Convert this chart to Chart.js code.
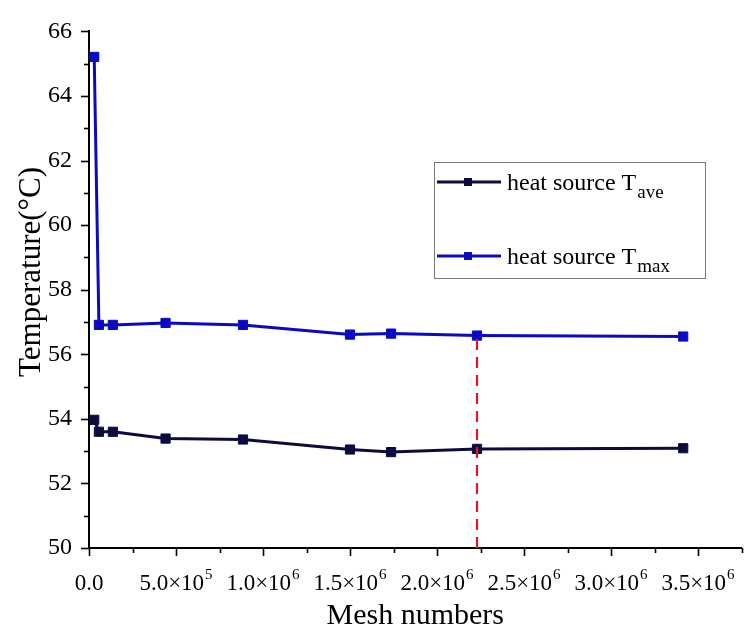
<!DOCTYPE html>
<html>
<head>
<meta charset="utf-8">
<script src="https://cdn.jsdelivr.net/npm/chart.js@4.4.1/dist/chart.umd.min.js"></script>
<style>
  html, body { margin: 0; padding: 0; background: #fff; }
  canvas { display: block; }
</style>
</head>
<body>
<canvas id="chart" width="749" height="639"></canvas>
<script>
// mesh sizes and the two temperatures
const meshNumbers = [30000, 57000, 137000, 440000, 885000, 1500000, 1736000, 2230000, 3415000];
const tAve = [53.97, 53.60, 53.60, 53.39, 53.36, 53.05, 52.97, 53.07, 53.09];
const tMax = [65.21, 56.91, 56.91, 56.97, 56.91, 56.61, 56.64, 56.58, 56.55];
const chosenIndex = 7; // mesh picked for the study (red dashed marker)

const seriesNames = ['heat source T', 'heat source T'];
const seriesSubs = ['ave', 'max'];
const seriesColors = ['#0b0b3f', '#0a0ac4'];

const xTickValues = [0, 5e5, 1e6, 1.5e6, 2e6, 2.5e6, 3e6, 3.5e6];
const xTickBase = ['0.0', '5.0×10', '1.0×10', '1.5×10', '2.0×10', '2.5×10', '3.0×10', '3.5×10'];
const xTickExp = ['', '5', '6', '6', '6', '6', '6', '6'];
const yTitle = 'Temperature(°C)';

const FONT = '"Liberation Serif", "Times New Roman", serif';

function points(ys) {
  return meshNumbers.map((m, i) => ({ x: m, y: ys[i] }));
}

// tick marks (major/minor), x labels with exponents, y title and the legend
const decor = {
  id: 'decor',
  afterDraw(chart) {
    const ctx = chart.ctx;
    const xs = chart.scales.x, ys = chart.scales.y;
    const area = chart.chartArea;
    ctx.save();
    ctx.strokeStyle = '#000';
    ctx.lineWidth = 1.6;
    xs.ticks.forEach(t => {
      const px = Math.round(xs.getPixelForValue(t.value)) + 0.5;
      const major = Math.abs(t.value / 5e5 - Math.round(t.value / 5e5)) < 1e-6;
      ctx.beginPath();
      ctx.moveTo(px, area.bottom);
      ctx.lineTo(px, area.bottom + (major ? 8 : 5));
      ctx.stroke();
    });
    ys.ticks.forEach(t => {
      const py = Math.round(ys.getPixelForValue(t.value)) + 0.5;
      const major = Math.round(t.value) % 2 === 0;
      ctx.beginPath();
      ctx.moveTo(area.left, py);
      ctx.lineTo(area.left - (major ? 8 : 5), py);
      ctx.stroke();
    });

    ctx.fillStyle = '#000';
    ctx.textBaseline = 'alphabetic';
    ctx.textAlign = 'left';
    xTickValues.forEach((v, i) => {
      ctx.font = '23px ' + FONT;
      const wb = ctx.measureText(xTickBase[i]).width;
      ctx.font = '15px ' + FONT;
      const we = xTickExp[i] ? ctx.measureText(xTickExp[i]).width + 1 : 0;
      const left = xs.getPixelForValue(v) - (wb + we) / 2;
      ctx.font = '23px ' + FONT;
      ctx.fillText(xTickBase[i], left, 590);
      if (xTickExp[i]) {
        ctx.font = '15px ' + FONT;
        ctx.fillText(xTickExp[i], left + wb + 1, 579);
      }
    });

    // y title
    ctx.save();
    ctx.translate(40, 272);
    ctx.rotate(-Math.PI / 2);
    ctx.textAlign = 'center';
    ctx.font = '31px ' + FONT;
    ctx.fillText(yTitle, 0, 0);
    ctx.restore();

    // legend box
    ctx.strokeStyle = '#7a7a7a';
    ctx.lineWidth = 1;
    ctx.strokeRect(434.5, 162.5, 271, 116);
    const rows = [182, 256];
    rows.forEach((ry, i) => {
      ctx.strokeStyle = seriesColors[i];
      ctx.fillStyle = seriesColors[i];
      ctx.lineWidth = 3;
      ctx.beginPath();
      ctx.moveTo(437, ry);
      ctx.lineTo(501, ry);
      ctx.stroke();
      ctx.fillRect(464, ry - 4, 8, 8);
      ctx.fillStyle = '#000';
      ctx.font = '24px ' + FONT;
      ctx.fillText(seriesNames[i], 507, ry + 8);
      const w = ctx.measureText(seriesNames[i]).width;
      ctx.font = '19px ' + FONT;
      ctx.fillText(seriesSubs[i], 507 + w + 1, ry + 16);
    });
    ctx.restore();
  }
};

new Chart(document.getElementById('chart'), {
  type: 'line',
  data: {
    datasets: [
      {
        label: 'chosen mesh',
        data: [{ x: meshNumbers[chosenIndex], y: 50 }, { x: meshNumbers[chosenIndex], y: tMax[chosenIndex] }],
        borderColor: '#e0191e',
        borderWidth: 2.2,
        borderDash: [11, 7],
        pointRadius: 0,
        order: -1
      },
      {
        label: seriesNames[0] + seriesSubs[0],
        data: points(tAve),
        borderColor: seriesColors[0],
        backgroundColor: seriesColors[0],
        borderWidth: 3,
        pointStyle: 'rect',
        pointRadius: 6.5,
        pointBorderWidth: 1,
        tension: 0
      },
      {
        label: seriesNames[1] + seriesSubs[1],
        data: points(tMax),
        borderColor: seriesColors[1],
        backgroundColor: seriesColors[1],
        borderWidth: 3,
        pointStyle: 'rect',
        pointRadius: 6.5,
        pointBorderWidth: 1,
        tension: 0
      }
    ]
  },
  options: {
    responsive: false,
    animation: false,
    layout: { padding: { top: 20, right: 5, bottom: 0, left: 0 } },
    plugins: {
      legend: { display: false },
      tooltip: { enabled: false }
    },
    scales: {
      x: {
        type: 'linear',
        min: 0,
        max: 3750000,
        ticks: { display: false, stepSize: 250000 },
        grid: { display: false, drawTicks: false },
        border: { display: true, color: '#000', width: 2 },
        title: {
          display: true,
          text: 'Mesh numbers',
          color: '#000',
          font: { family: FONT, size: 30 },
          padding: { top: 0, bottom: 5 }
        },
        afterFit(scale) { scale.height = 91; }
      },
      y: {
        min: 50,
        max: 66,
        ticks: {
          stepSize: 1,
          autoSkip: false,
          color: '#000',
          padding: 17,
          font: { family: FONT, size: 24 },
          callback: v => (Math.round(v) % 2 === 0 ? String(v) : '')
        },
        grid: { display: false, drawTicks: false },
        border: { display: true, color: '#000', width: 2 },
        afterFit(scale) { scale.width = 89; }
      }
    }
  },
  plugins: [decor]
});
</script>
</body>
</html>
